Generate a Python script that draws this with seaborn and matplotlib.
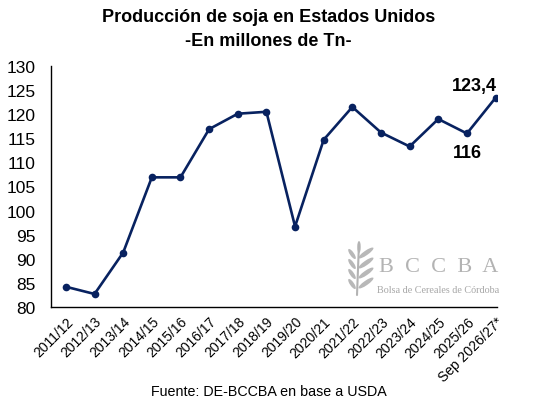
import matplotlib
matplotlib.use("Agg")
import matplotlib.pyplot as plt
from matplotlib.patches import Ellipse
import seaborn as sns
import pandas as pd

# --- Data ---
campaigns = ["2011/12", "2012/13", "2013/14", "2014/15", "2015/16", "2016/17",
             "2017/18", "2018/19", "2019/20", "2020/21", "2021/22", "2022/23",
             "2023/24", "2024/25", "2025/26", "Sep 2026/27*"]
production = [84.2, 82.7, 91.3, 106.9, 106.9, 116.9, 120.1, 120.5, 96.7, 114.7,
              121.5, 116.2, 113.3, 119.0, 116.0, 123.4]
yticks = [80, 85, 90, 95, 100, 105, 110, 115, 120, 125, 130]

df = pd.DataFrame({"x": range(len(campaigns)), "prod": production})

sns.set_style("white")
plt.rcParams["font.family"] = ["Liberation Sans", "DejaVu Sans"]
plt.rcParams["text.color"] = "black"
plt.rcParams["xtick.color"] = "black"
plt.rcParams["ytick.color"] = "black"

navy = "#082260"
fig = plt.figure(figsize=(5.37, 4.10), dpi=100)
ax = fig.add_axes([51 / 537, 1 - 308 / 410, (497 - 51) / 537, (308 - 67) / 410])

sns.lineplot(data=df, x="x", y="prod", ax=ax, color=navy, linewidth=1.9,
             marker="o", markersize=5.5, markeredgewidth=0)

ax.set_ylim(80, 130)
ax.set_xlim(-0.52, 15.05)
ax.set_yticks(yticks)
ax.set_yticklabels([str(t) for t in yticks], fontsize=12.5)
ax.set_xticks(range(len(campaigns)))
ax.set_xticklabels(campaigns, rotation=45, ha="right", rotation_mode="anchor", fontsize=10)
ax.tick_params(axis="y", length=0, pad=11)
ax.tick_params(axis="x", length=0, pad=5)
ax.set_xlabel("")
ax.set_ylabel("")
for s in ["top", "right"]:
    ax.spines[s].set_visible(False)
for s in ["left", "bottom"]:
    ax.spines[s].set_color("black")
    ax.spines[s].set_linewidth(1.0)

# value labels
ax.annotate("123,4", (15, production[15]), xytext=(-15, 9), textcoords="offset points",
            ha="center", va="center", fontsize=13, fontweight="bold")
ax.annotate("116", (14, production[14]), xytext=(0, -14), textcoords="offset points",
            ha="center", va="center", fontsize=13, fontweight="bold")

# watermark (logo)
serif = ["Liberation Serif", "DejaVu Serif"]
fig.text(439 / 537, 1 - 267 / 410, "B  C  C  B  A", fontsize=16, color="#b3b3b3",
         family=serif, ha="center", va="center")
fig.text(438 / 537, 1 - 291 / 410, "Bolsa de Cereales de Córdoba", fontsize=7.3, color="#a6a6a6",
         family=serif, ha="center", va="center")
icon = fig.add_axes([348 / 537, 1 - 298 / 410, 30 / 537, 56 / 410])
icon.set_xlim(0, 30)
icon.set_ylim(0, 56)
icon.axis("off")
icon.plot([9, 11], [2, 54], color="#b3b3b3", lw=1.5)
for yy in [10, 20, 30, 40]:
    icon.add_patch(Ellipse((4, yy + 3), 4, 12, angle=35, color="#b8b8b8", lw=0))
    icon.add_patch(Ellipse((18, yy + 4), 4.5, 18, angle=-55, color="#b8b8b8", lw=0))
icon.add_patch(Ellipse((11, 50), 3.5, 12, angle=0, color="#b8b8b8", lw=0))

fig.text(0.5, 1 - 17 / 410, "Producción de soja en Estados Unidos", ha="center", va="center",
         fontsize=13, fontweight="bold")
fig.text(0.5, 1 - 42 / 410, "-En millones de Tn-", ha="center", va="center",
         fontsize=13, fontweight="bold")
fig.text(0.5, 1 - 392 / 410, "Fuente: DE-BCCBA en base a USDA", ha="center", va="center",
         fontsize=10.3)

fig.savefig("out.png", dpi=100, facecolor="white")
